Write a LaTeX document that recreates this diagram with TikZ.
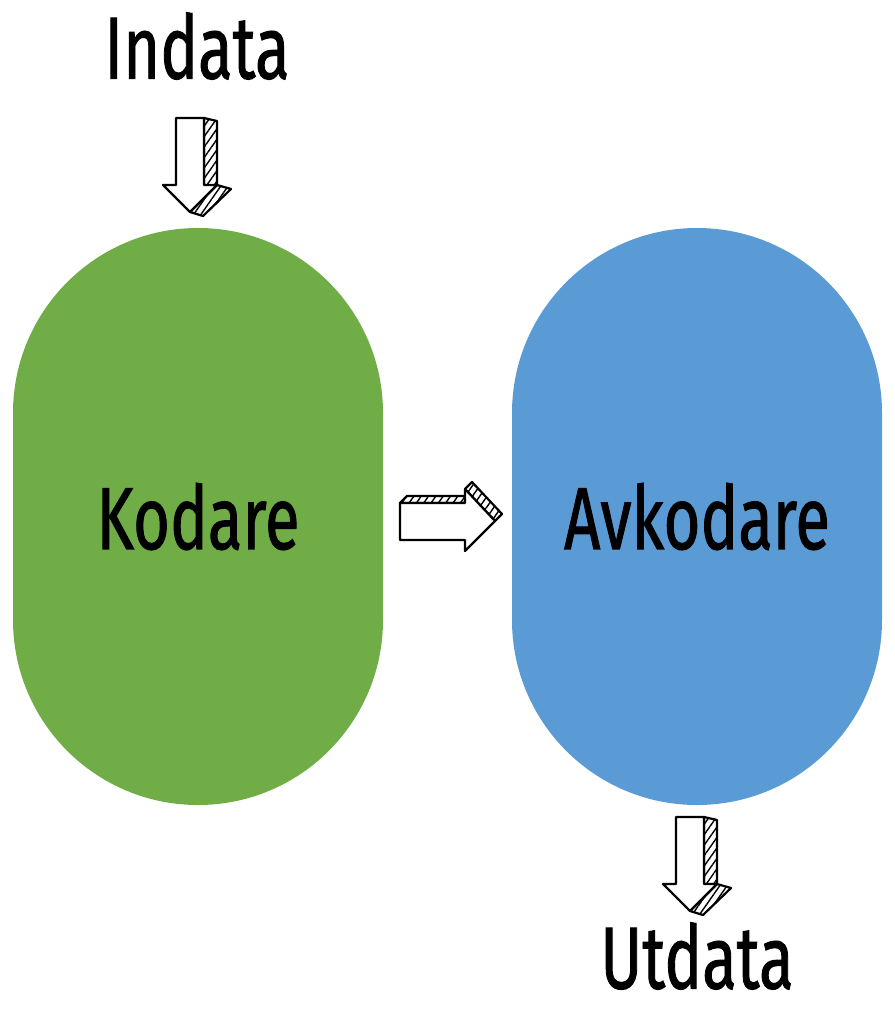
\documentclass[tikz,border=0pt]{standalone}
\usepackage{fontspec}
\setmainfont{Fira Sans}
\newfontfamily\labelfont[FakeBold=1.3]{Fira Sans}
\usetikzlibrary{patterns.meta}
\definecolor{encgreen}{HTML}{70AD47}
\definecolor{decblue}{HTML}{5B9BD5}
\tikzset{
  blob/.style={rectangle, rounded corners=185pt, minimum width=370pt, minimum height=577pt, inner sep=0pt, draw=none},
  bigtext/.style={font=\labelfont\fontsize{88}{88}\selectfont, text=black, xscale=0.72},
  sketch/.style={line width=2.2pt, line join=round, line cap=round, draw=black},
  front/.style={sketch, fill=white},
  side/.style={sketch, fill=white, postaction={pattern={Lines[angle=55,distance=6pt,line width=1.4pt]}, pattern color=black}},
  pics/downarr/.style={code={
    \draw[side] (14,0) -- (27,3) -- (27,70) -- (14,67) -- cycle;
    \draw[side] (27,67) -- (41,71) -- (13,98) -- (0,94) -- cycle;
    \draw[front] (-14,0) -- (14,0) -- (14,67) -- (27,67) -- (0,94) -- (-27,67) -- (-14,67) -- cycle;
  }},
  pics/rightarr/.style={code={
    \draw[side] (0,0) -- (7,-7) -- (65,-7) -- (65,0) -- cycle;
    \draw[side] (65,-14) -- (72,-21) -- (102,11) -- (95,18) -- cycle;
    \draw[front] (0,0) -- (65,0) -- (65,-14) -- (95,18) -- (65,48) -- (65,37) -- (0,37) -- cycle;
  }}
}
\begin{document}
\begin{tikzpicture}[x=1pt,y=-1pt]
\useasboundingbox (0,0) rectangle (894,1014);
\fill[white] (0,0) rectangle (894,1014);
\node[blob, fill=encgreen] (enc) at (198,516.5) {};
\node[blob, fill=decblue] (dec) at (697,516.5) {};
\node[bigtext] (enclabel) at (enc.center) {Kodare};
\node[bigtext] (declabel) at (dec.center) {Avkodare};
\node[bigtext] (in) at (197,46) {Indata};
\node[bigtext] (out) at (697,956) {Utdata};
\pic at (190,118) {downarr};
\pic at (400,503) {rightarr};
\pic at (690,817) {downarr};
\end{tikzpicture}
\end{document}
